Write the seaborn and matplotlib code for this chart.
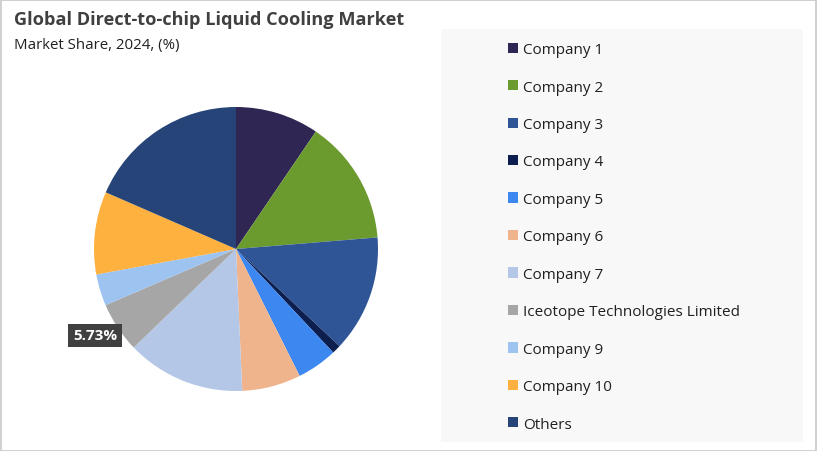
import matplotlib
matplotlib.use("Agg")
import matplotlib.pyplot as plt
import seaborn as sns
import numpy as np
from matplotlib.patches import Rectangle

companies = ["Company 1", "Company 2", "Company 3", "Company 4", "Company 5",
             "Company 6", "Company 7", "Iceotope Technologies Limited",
             "Company 9", "Company 10", "Others"]
shares = [9.5, 14.2, 13.3, 1.0, 4.6, 6.7, 13.5, 5.73, 3.6, 9.4, 18.47]
colors = ["#302654", "#6B9A2E", "#2F5597", "#0D1F4F", "#3C87F0", "#F0B48C",
          "#B4C7E7", "#A6A6A6", "#9DC3F0", "#FFB13F", "#264478"]
labelled = "Iceotope Technologies Limited"

sns.set_theme(style="white")
plt.rcParams['font.family'] = ['Open Sans', 'DejaVu Sans']

W, H = 817, 452
fig = plt.figure(figsize=(W / 100, H / 100), dpi=100)
fig.patch.set_facecolor("white")

# outer border and legend background
fig.patches.append(Rectangle((0.5 / W, 0.5 / H), 1 - 1.5 / W, 1 - 1.5 / H,
                             transform=fig.transFigure, fill=False,
                             edgecolor="#C8C8C8", lw=1.2))
fig.patches.append(Rectangle((441 / W, (H - 443) / H), 362 / W, 413 / H,
                             transform=fig.transFigure, facecolor="#F8F8F8",
                             edgecolor="none", zorder=0))

cx, cy, r = 236, 250, 142
ax = fig.add_axes([(cx - r) / W, (H - cy - r) / H, 2 * r / W, 2 * r / H])
wedges, _ = ax.pie(shares, colors=colors, startangle=90, counterclock=False,
                   radius=1.0, wedgeprops=dict(linewidth=0))
ax.set_xlim(-1, 1)
ax.set_ylim(-1, 1)
ax.set_aspect("equal")
ax.axis("off")

i = companies.index(labelled)
w = wedges[i]
mid = np.deg2rad((w.theta1 + w.theta2) / 2)
ax.text(1.15 * np.cos(mid) - 0.035, 1.15 * np.sin(mid) + 0.03, f"{shares[i]:.2f}%",
        ha="center", va="center", color="white", fontsize=11, fontweight="bold",
        bbox=dict(boxstyle="square,pad=0.3", facecolor="#404040", edgecolor="none"),
        zorder=5)

fig.text(14 / W, 1 - 20 / H, "Global Direct-to-chip Liquid Cooling Market",
         ha="left", va="center", fontsize=13.1, fontweight="bold", color="#404040")
fig.text(14 / W, 1 - 45 / H, "Market Share, 2024, (%)",
         ha="left", va="center", fontsize=10.8, color="#202020")

leg = fig.legend(wedges, companies, loc="upper left",
                 bbox_to_anchor=(502 / W, 1 - 37 / H), frameon=False,
                 fontsize=11, handlelength=0.65, handleheight=0.65,
                 handletextpad=0.3, labelspacing=1.47, borderaxespad=0)
for t in leg.get_texts():
    t.set_color("#202020")

fig.savefig("out.png", dpi=100, facecolor="white")
